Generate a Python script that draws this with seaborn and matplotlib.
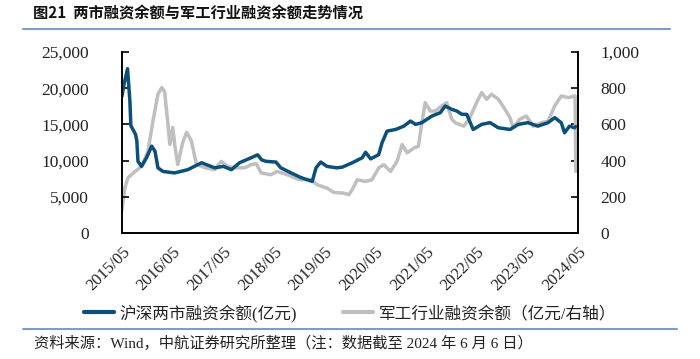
import matplotlib
matplotlib.use("Agg")
import matplotlib.pyplot as plt
from matplotlib.lines import Line2D
import seaborn as sns
import pandas as pd

# ---------------- data ----------------
market_dates = [
    "2015-05-01", "2015-05-15", "2015-06-10", "2015-06-27", "2015-07-04", "2015-07-19",
    "2015-08-07", "2015-08-16", "2015-08-24", "2015-09-19", "2015-10-25", "2015-12-01",
    "2015-12-25", "2016-01-15", "2016-02-21", "2016-05-15", "2016-08-18", "2016-11-25",
    "2017-02-28", "2017-05-01", "2017-06-28", "2017-08-25", "2017-11-06", "2018-01-03",
    "2018-02-01", "2018-03-04", "2018-05-15", "2018-06-19", "2018-09-01", "2018-11-12",
    "2019-02-01", "2019-02-28", "2019-04-03", "2019-05-18", "2019-07-28", "2019-09-06",
    "2019-11-16", "2020-01-28", "2020-02-20", "2020-03-28", "2020-05-25", "2020-06-18",
    "2020-07-24", "2020-09-24", "2020-11-22", "2021-01-09", "2021-02-15", "2021-04-01",
    "2021-06-12", "2021-08-12", "2021-09-16", "2021-11-03", "2021-12-09", "2022-01-15",
    "2022-02-19", "2022-04-06", "2022-06-06", "2022-08-06", "2022-10-04", "2022-12-28",
    "2023-02-25", "2023-05-06", "2023-07-16", "2023-09-28", "2023-11-15", "2024-01-01",
    "2024-01-25", "2024-03-01", "2024-04-06", "2024-04-15",
]
market_values = [
    18900, 20500, 22700, 18200, 14800, 14300,
    13600, 12700, 9900, 9200, 10400, 12000,
    11300, 9000, 8500, 8300, 8750, 9700,
    9000, 9200, 8750, 9700, 10300, 10800,
    10100, 9900, 9800, 9000, 8300, 7650,
    7130, 9000, 9800, 9200, 9000, 9100,
    9700, 10400, 11150, 10240, 10830, 12460,
    14070, 14300, 14760, 15460, 15000, 15240,
    16150, 16620, 17540, 17080, 16850, 16390,
    16390, 14300, 15000, 15240, 14540, 14300,
    15000, 15240, 14760, 15240, 15930, 15240,
    13850, 14760, 14540, 14700,
]

military_dates = [
    "2015-05-01", "2015-05-22", "2015-06-13", "2015-08-03", "2015-09-19", "2015-11-04",
    "2015-12-10", "2016-01-15", "2016-02-12", "2016-03-04", "2016-03-25", "2016-04-10",
    "2016-05-01", "2016-05-15", "2016-06-06", "2016-07-12", "2016-08-09", "2016-09-13",
    "2016-10-19", "2016-12-18", "2017-02-28", "2017-04-16", "2017-06-01", "2017-07-19",
    "2017-10-01", "2017-11-18", "2017-12-24", "2018-01-28", "2018-04-09", "2018-05-24",
    "2018-08-04", "2018-11-01", "2019-01-22", "2019-03-07", "2019-05-18", "2019-07-06",
    "2019-09-18", "2019-10-22", "2019-11-16", "2019-12-22", "2020-02-20", "2020-04-06",
    "2020-05-25", "2020-07-01", "2020-08-18", "2020-10-04", "2020-11-10", "2020-12-16",
    "2021-02-04", "2021-03-07", "2021-04-01", "2021-04-25", "2021-06-01", "2021-07-07",
    "2021-08-22", "2021-09-28", "2021-11-03", "2021-11-28", "2022-01-28", "2022-03-13",
    "2022-05-01", "2022-06-06", "2022-07-12", "2022-08-16", "2022-10-04", "2022-11-22",
    "2022-12-28", "2023-01-19", "2023-03-07", "2023-04-25", "2023-06-13", "2023-08-10",
    "2023-09-28", "2023-11-15", "2024-01-01", "2024-02-19", "2024-04-10", "2024-04-15",
]
military_values = [
    128, 250, 305, 340, 368, 450,
    618, 767, 804, 778, 618, 489,
    583, 489, 378, 500, 556, 507,
    378, 361, 350, 396, 368, 360,
    360, 378, 383, 332, 322, 340,
    322, 294, 294, 267, 248, 224,
    220, 211, 239, 294, 285, 294,
    360, 378, 340, 396, 489, 443,
    470, 479, 609, 720, 674, 674,
    702, 720, 628, 609, 590, 637,
    720, 776, 739, 767, 739, 683,
    637, 582, 628, 646, 590, 609,
    618, 702, 757, 748, 757, 340,
]

tick_labels = ["2015/05", "2016/05", "2017/05", "2018/05", "2019/05",
               "2020/05", "2021/05", "2022/05", "2023/05", "2024/05"]

title_text = "图21  两市融资余额与军工行业融资余额走势情况"
legend_market = "沪深两市融资余额(亿元)"
legend_military = "军工行业融资余额（亿元/右轴）"
source_text = "资料来源：Wind，中航证券研究所整理（注：数据截至 2024 年 6 月 6 日）"

# ---------------- style ----------------
sns.set_theme(style="white")
plt.rcParams["font.family"] = ["Liberation Serif", "Noto Sans CJK SC", "DejaVu Sans"]
plt.rcParams["axes.unicode_minus"] = False

BLUE = "#0B4F7A"
GRAY = "#BFBFBF"
RULE = "#7F9CC9"
CJK = ["Liberation Serif", "Noto Sans CJK SC", "DejaVu Sans"]

df_m = pd.DataFrame({"date": pd.to_datetime(market_dates), "value": market_values})
df_j = pd.DataFrame({"date": pd.to_datetime(military_dates), "value": military_values})

fig = plt.figure(figsize=(7.0, 3.59), dpi=100)
ax = fig.add_axes([122 / 700, 1 - 233 / 359, (578 - 122) / 700, (233 - 52) / 359])
ax2 = ax.twinx()

sns.lineplot(data=df_j, x="date", y="value", ax=ax2, color=GRAY, lw=2.5, legend=False)
sns.lineplot(data=df_m, x="date", y="value", ax=ax, color=BLUE, lw=2.5, legend=False)

ax.set_ylim(0, 25000)
ax2.set_ylim(0, 1000)
left_ticks = [0, 5000, 10000, 15000, 20000, 25000]
right_ticks = [0, 200, 400, 600, 800, 1000]
ax.set_yticks(left_ticks)
ax.set_yticklabels([f"{v:,}" for v in left_ticks])
ax2.set_yticks(right_ticks)
ax2.set_yticklabels([f"{v:,}" for v in right_ticks])

tick_dates = pd.to_datetime([s.replace("/", "-") + "-01" for s in tick_labels])
ax.set_xlim(pd.Timestamp("2015-05-01"), pd.Timestamp("2024-04-20"))
ax.set_xticks(tick_dates)
ax.set_xticklabels(tick_labels, rotation=45, ha="right", rotation_mode="anchor")
ax.set_xlabel("")
ax.set_ylabel("")
ax2.set_ylabel("")

# blue series drawn above the gray one
ax.set_zorder(ax2.get_zorder() + 1)
ax.patch.set_visible(False)

for a in (ax, ax2):
    a.spines["top"].set_visible(False)
    for s in ("left", "right", "bottom"):
        a.spines[s].set_color("black")
        a.spines[s].set_linewidth(1.2)
    a.grid(False)

ax.tick_params(axis="y", direction="in", length=5, width=1.2, labelsize=12.5, pad=24, colors="black")
ax.tick_params(axis="x", direction="in", length=5, width=1.2, labelsize=12, pad=8, colors="black")
ax2.tick_params(axis="y", direction="in", length=5, width=1.2, labelsize=12.5, pad=16, colors="black")
for lab in ax.get_xticklabels() + ax.get_yticklabels() + ax2.get_yticklabels():
    lab.set_color("#222222")

# ---------------- annotations ----------------
fig.text(33 / 700, 1 - 14 / 359, title_text, fontsize=11, fontweight="bold",
         family=["Noto Sans CJK SC", "DejaVu Sans"], va="center", ha="left", color="#111111")
fig.add_artist(Line2D([23 / 700, 670 / 700], [1 - 29 / 359] * 2, color=RULE, lw=1.5))
fig.add_artist(Line2D([23 / 700, 677 / 700], [1 - 329 / 359] * 2, color=RULE, lw=1.5))

handles = [Line2D([], [], color=BLUE, lw=3), Line2D([], [], color=GRAY, lw=3)]
leg = fig.legend(handles, [legend_market, legend_military], loc="center",
                 bbox_to_anchor=(0.5, 1 - 313 / 359), ncol=2, frameon=False,
                 handlelength=1.8, handletextpad=0.3, columnspacing=2.8,
                 prop={"family": CJK, "size": 12})
for t in leg.get_texts():
    t.set_color("#222222")

fig.text(34 / 700, 1 - 343 / 359, source_text, fontsize=11, family=CJK,
         va="center", ha="left", color="#222222")

fig.savefig("out.png", dpi=100)
